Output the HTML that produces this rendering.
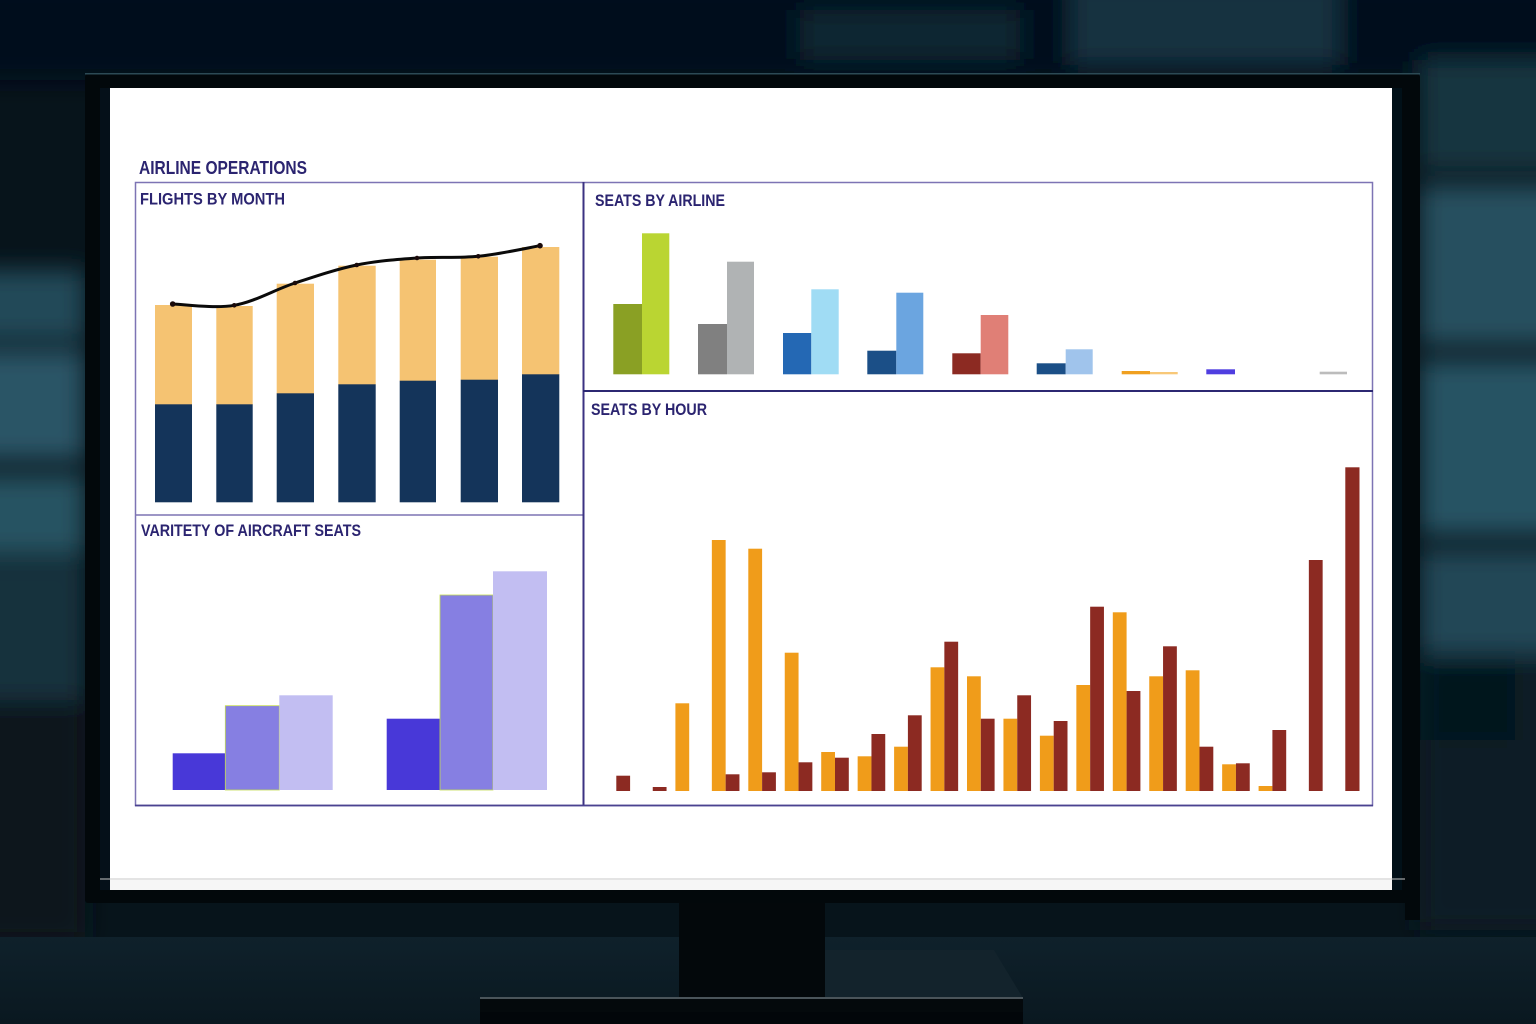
<!DOCTYPE html>
<html>
<head>
<meta charset="utf-8">
<style>
html,body{margin:0;padding:0;width:1536px;height:1024px;overflow:hidden;background:#07141b;}
svg{display:block;}
text{font-family:"Liberation Sans",sans-serif;font-weight:bold;fill:#2b2470;}
</style>
</head>
<body>
<svg width="1536" height="1024" viewBox="0 0 1536 1024" xmlns="http://www.w3.org/2000/svg">
<defs>
<filter id="b8" filterUnits="userSpaceOnUse" x="-100" y="-100" width="1736" height="1224"><feGaussianBlur stdDeviation="12"/></filter>
<linearGradient id="floor" x1="0" y1="0" x2="0" y2="1">
<stop offset="0" stop-color="#0f212b"/><stop offset="1" stop-color="#0a1820"/>
</linearGradient>
</defs>

<!-- background photo approximation -->
<rect x="0" y="0" width="1536" height="1024" fill="#07141b"/>
<g filter="url(#b8)">
<rect x="-40" y="-20" width="1616" height="100" fill="#05111a"/>
<rect x="1070" y="-20" width="270" height="85" fill="#143240"/>
<rect x="800" y="10" width="220" height="50" fill="#0e2530"/>
<rect x="-40" y="270" width="125" height="70" fill="#244a59"/>
<rect x="-40" y="350" width="125" height="110" fill="#2a5566"/>
<rect x="-40" y="475" width="125" height="80" fill="#275262"/>
<rect x="-40" y="560" width="125" height="140" fill="#14313d"/>
<rect x="-40" y="700" width="125" height="240" fill="#09171f"/>
<rect x="1420" y="60" width="160" height="110" fill="#143540"/>
<rect x="1420" y="185" width="160" height="160" fill="#26505e"/>
<rect x="1420" y="360" width="160" height="175" fill="#285363"/>
<rect x="1420" y="550" width="160" height="105" fill="#224757"/>
<rect x="1420" y="660" width="160" height="270" fill="#0c1e27"/>
<rect x="1435" y="660" width="80" height="80" fill="#06121a"/>
</g>
<rect x="0" y="937" width="1536" height="87" fill="url(#floor)"/>

<!-- monitor stand -->
<rect x="679" y="900" width="146" height="98" fill="#03080b"/>
<polygon points="825,950 994,950 1023,998 825,998" fill="#13232c"/>
<rect x="480" y="998" width="543" height="14" fill="#04090c"/>
<rect x="480" y="997" width="543" height="2" fill="#4a545a"/>
<rect x="480" y="1012" width="543" height="12" fill="#02060a"/>

<!-- monitor bezel -->
<rect x="85" y="74" width="1335" height="829" rx="3" fill="#02080b"/>
<rect x="1405" y="880" width="15" height="40" fill="#02080b"/>
<rect x="85" y="73" width="1335" height="1.5" fill="#2c4a55"/>
<rect x="100" y="88" width="10" height="802" fill="#051019"/>
<rect x="1392" y="88" width="10" height="802" fill="#011018"/>

<!-- screen -->
<rect x="110" y="88" width="1282" height="802" fill="#ffffff"/>
<rect x="110" y="880" width="1282" height="10" fill="#f6f6f6"/>
<rect x="100" y="878.5" width="1305" height="1" fill="#c8c8c8"/>

<!-- titles -->
<text x="139" y="174" font-size="18" textLength="168" lengthAdjust="spacingAndGlyphs">AIRLINE OPERATIONS</text>

<!-- panel frames -->
<rect x="135.5" y="182.5" width="1237" height="623" fill="none" stroke="#7d74b4" stroke-width="1.5"/>
<line x1="135.5" y1="515" x2="583.5" y2="515" stroke="#7d74b4" stroke-width="1.5"/>
<line x1="583.5" y1="182" x2="583.5" y2="806" stroke="#3b3282" stroke-width="2"/>
<line x1="583" y1="391" x2="1373" y2="391" stroke="#2c2872" stroke-width="2"/>
<line x1="135" y1="805.5" x2="1373" y2="805.5" stroke="#4a4290" stroke-width="1.8"/>

<!-- FLIGHTS BY MONTH -->
<text x="140" y="204.5" font-size="16.5" textLength="145" lengthAdjust="spacingAndGlyphs">FLIGHTS BY MONTH</text>
<g fill="#f5c372">
<rect x="155" y="305" width="37" height="100"/>
<rect x="216.3" y="306" width="36.4" height="99"/>
<rect x="276.7" y="283.7" width="37.3" height="110"/>
<rect x="338.3" y="265.7" width="37.4" height="119"/>
<rect x="399.7" y="259.7" width="36.3" height="121.5"/>
<rect x="460.7" y="256.7" width="37.3" height="123.5"/>
<rect x="522" y="247" width="37.3" height="128"/>
</g>
<g fill="#14345a">
<rect x="155" y="404.3" width="37" height="98"/>
<rect x="216.3" y="404.3" width="36.4" height="98"/>
<rect x="276.7" y="393.3" width="37.3" height="109"/>
<rect x="338.3" y="384.3" width="37.4" height="118"/>
<rect x="399.7" y="380.7" width="36.3" height="121.6"/>
<rect x="460.7" y="379.7" width="37.3" height="122.6"/>
<rect x="522" y="374.3" width="37.3" height="128"/>
</g>
<path d="M172.7,304 C183,304.2 213.9,308.8 234.3,305.3 C254.7,301.8 274.6,289.7 295,283 C315.4,276.3 336.4,269.2 356.7,265 C377,260.8 396.7,259.5 417,258 C437.3,256.6 457.8,258.4 478.3,256.3 C498.8,254.3 529.7,247.5 540,245.7" fill="none" stroke="#0a0a0a" stroke-width="3" stroke-linecap="round"/>
<g fill="#1a0a0a">
<circle cx="172.7" cy="304" r="2.8"/><circle cx="234.3" cy="305.3" r="2.3"/><circle cx="295" cy="283" r="2.3"/>
<circle cx="356.7" cy="265" r="2.3"/><circle cx="417" cy="258" r="2.3"/><circle cx="478.3" cy="256.3" r="2.3"/><circle cx="540" cy="245.7" r="2.8"/>
</g>

<!-- VARIETY OF AIRCRAFT SEATS -->
<text x="141" y="536" font-size="17" textLength="220" lengthAdjust="spacingAndGlyphs">VARITETY OF AIRCRAFT SEATS</text>
<rect x="172.7" y="753.3" width="52.6" height="36.7" fill="#4838d8"/>
<rect x="225.3" y="705.7" width="54" height="84.3" fill="#867fe2" stroke="#c4dc50" stroke-width="0.8"/>
<rect x="279.3" y="695.3" width="53.4" height="94.7" fill="#c2bef2"/>
<rect x="386.7" y="718.7" width="53.3" height="71.3" fill="#4838d8"/>
<rect x="440" y="595" width="53" height="195" fill="#867fe2" stroke="#c4dc50" stroke-width="0.8"/>
<rect x="493" y="571.3" width="54" height="218.7" fill="#c2bef2"/>

<!-- SEATS BY AIRLINE -->
<text x="595" y="206" font-size="16.5" textLength="130" lengthAdjust="spacingAndGlyphs">SEATS BY AIRLINE</text>
<rect x="613.3" y="304" width="28.7" height="70.3" fill="#8aa024"/>
<rect x="642" y="233.3" width="27.3" height="141" fill="#bad532"/>
<rect x="698" y="324" width="29" height="50.3" fill="#808080"/>
<rect x="727" y="261.7" width="27" height="112.6" fill="#b0b3b4"/>
<rect x="783" y="333" width="28.3" height="41.3" fill="#2468b4"/>
<rect x="811.3" y="289.3" width="27.4" height="85" fill="#a0dcf4"/>
<rect x="867.3" y="350.7" width="29" height="23.6" fill="#1b4f87"/>
<rect x="896.3" y="292.7" width="27" height="81.6" fill="#6ba5e0"/>
<rect x="952.3" y="353.3" width="28.4" height="21" fill="#8c2a22"/>
<rect x="980.7" y="315" width="27.6" height="59.3" fill="#e07f76"/>
<rect x="1036.7" y="363.3" width="29" height="11" fill="#1b4f87"/>
<rect x="1065.7" y="349.3" width="27" height="25" fill="#a0c4ec"/>
<rect x="1121.7" y="371" width="28.3" height="3.3" fill="#f0a020"/>
<rect x="1150" y="372" width="27.7" height="2.3" fill="#f8c878"/>
<rect x="1206.3" y="369.3" width="28.7" height="5" fill="#4f3ee0"/>
<rect x="1319.7" y="371.7" width="27.3" height="2.6" fill="#bcbcbc"/>

<!-- SEATS BY HOUR -->
<text x="591" y="415" font-size="17" textLength="116" lengthAdjust="spacingAndGlyphs">SEATS BY HOUR</text>
<g fill="#f09c1a">
<rect x="675.4" y="703.3" width="13.8" height="87.7"/>
<rect x="711.85" y="540" width="13.8" height="251"/>
<rect x="748.3" y="548.7" width="13.8" height="242.3"/>
<rect x="784.75" y="652.7" width="13.8" height="138.3"/>
<rect x="821.2" y="752" width="13.8" height="39"/>
<rect x="857.65" y="756.3" width="13.8" height="34.7"/>
<rect x="894.1" y="746.7" width="13.8" height="44.3"/>
<rect x="930.55" y="667.3" width="13.8" height="123.7"/>
<rect x="967" y="676.3" width="13.8" height="114.7"/>
<rect x="1003.45" y="718.7" width="13.8" height="72.3"/>
<rect x="1039.9" y="735.7" width="13.8" height="55.3"/>
<rect x="1076.35" y="685" width="13.8" height="106"/>
<rect x="1112.8" y="612.3" width="13.8" height="178.7"/>
<rect x="1149.25" y="676.3" width="13.8" height="114.7"/>
<rect x="1185.7" y="670.3" width="13.8" height="120.7"/>
<rect x="1222.15" y="764.3" width="13.8" height="26.7"/>
<rect x="1258.6" y="786" width="13.8" height="5"/>
</g>
<g fill="#8c2a22">
<rect x="616.3" y="775.7" width="13.8" height="15.3"/>
<rect x="652.75" y="787" width="13.8" height="4"/>
<rect x="725.65" y="774.3" width="13.8" height="16.7"/>
<rect x="762.1" y="772.3" width="13.8" height="18.7"/>
<rect x="798.55" y="762.3" width="13.8" height="28.7"/>
<rect x="835" y="757.7" width="13.8" height="33.3"/>
<rect x="871.45" y="734" width="13.8" height="57"/>
<rect x="907.9" y="715.3" width="13.8" height="75.7"/>
<rect x="944.35" y="641.7" width="13.8" height="149.3"/>
<rect x="980.8" y="718.7" width="13.8" height="72.3"/>
<rect x="1017.25" y="695.3" width="13.8" height="95.7"/>
<rect x="1053.7" y="721" width="13.8" height="70"/>
<rect x="1090.15" y="606.7" width="13.8" height="184.3"/>
<rect x="1126.6" y="691" width="13.8" height="100"/>
<rect x="1163.05" y="646.3" width="13.8" height="144.7"/>
<rect x="1199.5" y="746.7" width="13.8" height="44.3"/>
<rect x="1235.95" y="763.3" width="13.8" height="27.7"/>
<rect x="1272.4" y="730" width="13.8" height="61"/>
<rect x="1308.85" y="560" width="13.8" height="231"/>
<rect x="1345.3" y="467.3" width="14.2" height="323.7"/>
</g>
</svg>
</body>
</html>
